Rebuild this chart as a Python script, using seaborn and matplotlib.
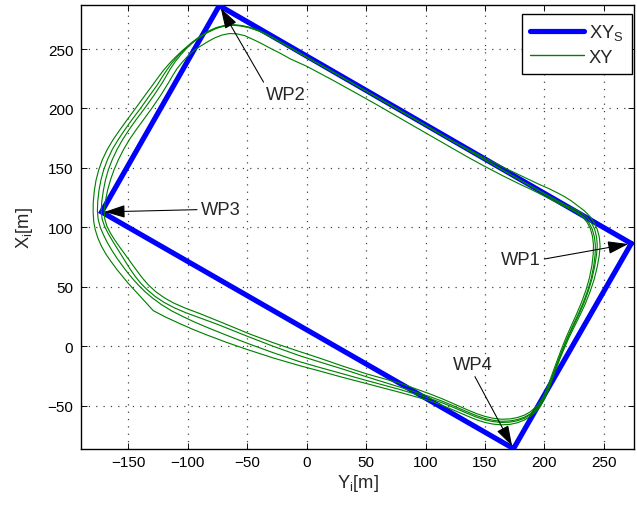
import numpy as np
import pandas as pd
import matplotlib
matplotlib.use("Agg")
import matplotlib.pyplot as plt
import seaborn as sns
from matplotlib.lines import Line2D

# Waypoints (horizontal axis = Y_i, vertical axis = X_i), in visiting order
wp_names = ["WP1", "WP2", "WP3", "WP4"]
wp_yi = [273.0, -73.5, -172.5, 174.0]
wp_xi = [86.5, 286.5, 113.0, -86.0]

# Vehicle track, one list of (Y_i, X_i) points per lap
lap1 = [(120, 174), (100, 185.6), (80, 197.2), (60, 208.7), (40, 220.3), (20, 231.8), (0, 243.2),
        (-14, 251.2), (-22, 255.6), (-30, 260.2), (-40, 265), (-48, 267.8), (-55, 269.3), (-62, 270),
        (-69, 269.3), (-76, 267.3), (-83, 264), (-90, 259.8), (-97, 254.8), (-104, 249.2),
        (-110, 243.5), (-115.5, 237.8), (-120.5, 232), (-125, 226), (-129.5, 219.8), (-136, 211),
        (-144, 200), (-151, 190.5), (-157.5, 181.5), (-163, 173.5), (-168, 165), (-172, 156.5),
        (-175, 148), (-177.2, 139.5), (-178.7, 130), (-179.5, 121), (-179.6, 113), (-179.1, 105),
        (-177.8, 98), (-175.6, 91), (-172.5, 84), (-168.5, 77), (-164, 70.6), (-159.5, 64.5),
        (-155, 59), (-150.5, 53.5), (-145, 47.5), (-139.5, 41.5), (-134, 35.5), (-129, 30),
        (-118, 24.3), (-106, 18.8), (-95, 14), (-84, 9.6), (-67, 3.2), (-50.5, -2.5), (-28, -9.8),
        (-5.6, -16.3), (11.2, -20.8), (30, -26), (50, -31.2), (78.5, -38.7), (103.7, -45.7),
        (115, -50), (125, -54.2), (135, -58.5), (143, -61.8), (150, -64), (157, -65.4), (164, -66),
        (171, -65.6), (177, -64.3), (183, -62), (188, -59), (192.5, -55.2), (196.3, -50.7),
        (199.4, -45.6), (202, -40), (204.5, -33.5), (207, -26.5), (209.8, -19), (212.8, -11),
        (216.2, -2.7), (220, 6), (224.5, 15.3), (229.3, 25), (234, 35), (238.2, 45.5), (241.7, 56),
        (244.3, 66.5), (246, 76), (246.8, 84), (246.2, 91.5), (244.5, 98), (241.8, 104), (238, 109.5),
        (233.5, 114), (228.5, 117.8), (223, 122), (217, 125.8), (211, 129), (204, 132.5), (196, 136),
        (187.5, 140), (177.7, 144.7), (168, 149.3), (158, 154.3), (147, 159.8), (134, 166.7), (120, 174)]

lap2 = [(120, 174), (100, 185.8), (80, 197.3), (60, 208.8), (40, 220.3), (20, 231.8), (0, 243),
        (-14, 251), (-22, 255.5), (-30, 260.3), (-40, 265.2), (-48, 268), (-55, 269.6), (-62, 270.2),
        (-69, 269.6), (-76, 267.8), (-83, 264.8), (-90, 260.5), (-97, 255.2), (-103, 249.5),
        (-108.5, 243.8), (-113.5, 238), (-117.5, 232.5), (-121.5, 226.5), (-125.5, 220), (-132, 211),
        (-140, 199.8), (-147, 190.5), (-153, 182), (-158.4, 174), (-163.5, 165.5), (-167.5, 157),
        (-170.7, 148.5), (-173, 140), (-174.7, 131), (-175.7, 122), (-176, 114), (-175.4, 107),
        (-173.6, 100), (-171, 94), (-167.8, 87.5), (-164, 81), (-159.8, 74.5), (-155.5, 68.5),
        (-151, 62.5), (-146.5, 57), (-141.5, 51.5), (-136, 46), (-129.5, 40.5), (-122, 35),
        (-113.5, 29.8), (-104, 25), (-94, 20.3), (-82, 15.2), (-66, 8.8), (-50, 2.6), (-28, -5.4),
        (-5.6, -13), (11.2, -17.8), (30, -23), (50, -28.6), (78.5, -36.3), (103.7, -43.8),
        (115, -47.9), (125, -52), (135, -56.3), (143, -59.6), (150, -61.8), (157, -63.3), (164, -64),
        (171, -63.7), (177, -62.6), (183, -60.5), (188, -57.6), (192.4, -53.8), (196.2, -49.3),
        (199.2, -44.2), (201.8, -38.7), (204.2, -32.4), (206.7, -25.6), (209.5, -18.2),
        (212.5, -10.3), (215.8, -2), (219.5, 6.7), (223.8, 16), (228.5, 25.8), (233, 36),
        (236.9, 46.5), (240, 57), (242.3, 67.5), (243.8, 77), (244.4, 85), (243.8, 92), (242.2, 98.5),
        (239.5, 103.8), (235.8, 108.5), (231, 112.3), (225.5, 115.5), (219, 118.3), (211, 122.5),
        (200, 128.5), (190, 134), (180, 139.6), (168, 146.5), (155, 154), (140, 162.6), (120, 174)]

lap3 = [(120, 174.2), (100, 186), (80, 197.5), (60, 209), (40, 220.5), (20, 232), (0, 243.3),
        (-14, 251.4), (-22, 255.8), (-30, 260.6), (-40, 265.5), (-48, 268.3), (-55, 269.8),
        (-62, 270.4), (-69, 269.8), (-76, 268), (-82, 265.2), (-88, 261.5), (-94.5, 256.5),
        (-101, 250.5), (-106, 245), (-110.5, 239.5), (-114.5, 233.5), (-118, 227.5), (-121.5, 221.5),
        (-128.5, 211), (-136.5, 199.8), (-143.5, 190.5), (-149.5, 182), (-154.7, 174),
        (-159.5, 165.5), (-163.5, 157), (-166.8, 148.5), (-169.2, 140), (-171, 131), (-172.3, 122),
        (-172.8, 114), (-172, 107), (-170, 101), (-167, 95), (-163.5, 89), (-159.8, 83), (-156, 77),
        (-152.3, 71), (-148.5, 65), (-144.3, 59), (-139.5, 53), (-134, 47.5), (-127.5, 42),
        (-120, 37), (-111.5, 32.5), (-101.5, 28.2), (-90, 24), (-75, 18.5), (-60, 12.5), (-50, 8.5),
        (-28, 0), (-5.6, -8), (11.2, -13.2), (30, -19), (50, -25.5), (78.5, -34.3), (103.7, -42.3),
        (115, -46.5), (125, -50.7), (135, -55), (143, -58.3), (150, -60.6), (157, -62.2), (164, -63),
        (171, -62.7), (177, -61.6), (183, -59.6), (188, -56.8), (192.3, -53.2), (196, -48.8),
        (199, -43.9), (201.6, -38.5), (204, -32.3), (206.5, -25.6), (209.2, -18.2), (212.2, -10.3),
        (215.4, -2), (219, 6.7), (223.2, 16), (227.8, 25.8), (232.3, 36), (236.2, 46.5), (239.3, 57),
        (241.4, 67.5), (242.6, 77), (242.8, 85), (242, 92), (240.2, 98.5), (237.3, 104),
        (233.4, 108.6), (228.5, 112.2), (223, 115.2), (216.5, 118.5), (208, 123.3), (200, 128),
        (190, 133.7), (180, 139.4), (168, 146.3), (155, 153.8), (140, 162.4), (120, 174.2)]

lap4 = [(120, 168), (100, 179.5), (80, 191), (60, 202.6), (40, 213.8), (21, 224.3), (0, 235.5),
        (-14, 241.8), (-22, 246.3), (-30, 250.3), (-38, 254.6), (-45, 258), (-52, 261.2),
        (-59, 262.8), (-65, 263), (-71, 261.8), (-77, 259.5), (-83, 256.3), (-89, 252.6),
        (-95.4, 248.4), (-100.5, 243.5), (-105, 238.5), (-109, 233.5), (-112.5, 228), (-116, 222),
        (-122.5, 211.5), (-130, 200.5), (-137.3, 190.5), (-143.5, 182), (-149, 174), (-154, 165.5),
        (-158.3, 157), (-162, 148.5), (-165, 140), (-167.5, 131), (-169.3, 122), (-170.3, 114),
        (-169.8, 107), (-168, 101), (-165.2, 95.5), (-161.8, 90), (-158, 84.5), (-154, 79),
        (-150, 73.5), (-146, 68), (-142, 62.5), (-137.8, 57), (-133, 51.5), (-127, 46), (-120, 41),
        (-112, 36.5), (-103, 32.5), (-89.7, 27.5), (-70, 19.5), (-47.7, 10.3), (-28, 3),
        (-5.6, -4.5), (11.2, -10), (30, -16.5), (50, -23), (78.5, -31), (103.7, -40), (115, -44.5),
        (125, -48.9), (135, -53.3), (143, -56.6), (150, -58.9), (157, -60.5), (164, -61.3),
        (171, -61), (177, -59.9), (183, -57.9), (188, -55.1), (192.2, -51.5), (195.8, -47.2),
        (198.8, -42.3), (201.3, -37), (203.7, -31), (206.1, -24.4), (208.7, -17.2), (211.6, -9.4),
        (214.7, -1.2), (218.2, 7.5), (222.3, 16.8), (226.7, 26.5), (231, 36.6), (234.8, 47),
        (237.8, 57.5), (239.9, 68), (241, 77.5), (241.2, 85.5), (240.4, 92.5), (238.6, 99),
        (235.7, 104.5), (231.8, 109), (227, 112.4), (221, 115.6), (214.5, 118.8), (207, 122.6),
        (198, 127.3), (189, 131.8), (179.4, 136.3), (165, 143.4), (150, 151.2), (135, 159.4),
        (120, 168)]

laps = [lap1, lap2, lap3, lap4]

# Label anchor points for the waypoint call-outs (Y_i, X_i)
label_yi = [180.2, -17.8, -72.5, 139.9]
label_xi = [72.9, 212.0, 115.0, -15.3]
label_relpos = [(1.0, 0.5), (0.0, 1.0), (0.0, 0.5), (0.5, 0.0)]

sns.set_theme(style="white")
plt.rcParams["font.family"] = ["Liberation Sans", "DejaVu Sans"]
plt.rcParams["mathtext.fontset"] = "custom"
plt.rcParams["mathtext.rm"] = "Liberation Sans"
plt.rcParams["mathtext.it"] = "Liberation Sans"

DPI = 110
fig = plt.figure(figsize=(637 / DPI, 506 / DPI), dpi=DPI)
fig.patch.set_facecolor("white")
ax = fig.add_axes([81 / 637, 56 / 506, 553 / 637, 444 / 506])
ax.set_facecolor("white")

blue = "#0000FF"
green = "#008000"

# Reference path through the waypoints (closed)
ref = pd.DataFrame({"Yi": wp_yi + wp_yi[:1], "Xi": wp_xi + wp_xi[:1]})
sns.lineplot(data=ref, x="Yi", y="Xi", sort=False, estimator=None, color=blue,
             lw=3.4, ax=ax, solid_joinstyle="miter", zorder=3)

# Simulated track
for lap in laps:
    yi, xi = zip(*lap)
    df = pd.DataFrame({"Yi": yi, "Xi": xi})
    sns.lineplot(data=df, x="Yi", y="Xi", sort=False, estimator=None, color=green,
                 lw=0.75, ax=ax, zorder=4)

ax.set_xlim(-189.8, 275.3)
ax.set_ylim(-86.3, 287.0)
ax.set_xticks(np.arange(-150, 251, 50))
ax.set_yticks(np.arange(-50, 251, 50))

ax.grid(True, color="0.25", linestyle=(0, (1, 5)), linewidth=0.8)
ax.set_axisbelow(True)
for s in ax.spines.values():
    s.set_color("black")
    s.set_linewidth(0.9)
    s.set_visible(True)

ax.tick_params(direction="in", length=4, width=0.6, colors="black", labelsize=10,
               top=True, right=True, bottom=True, left=True)
ax.tick_params(axis="x", pad=4)
ax.tick_params(axis="y", pad=5)

ax.set_xlabel(r"Y$_\mathregular{i}$[m]", fontsize=12, labelpad=2)
ax.set_ylabel(r"X$_\mathregular{i}$[m]", fontsize=12, labelpad=8)

# Waypoint call-outs
for name, wy, wx, ty, tx, rp in zip(wp_names, wp_yi, wp_xi, label_yi, label_xi, label_relpos):
    ax.annotate(name, xy=(wy, wx), xytext=(ty, tx), fontsize=12, ha="center", va="center",
                zorder=6,
                arrowprops=dict(arrowstyle="-|>,head_length=1.15,head_width=0.36",
                                color="black", lw=0.7, relpos=rp, shrinkA=0, shrinkB=2,
                                mutation_scale=10))

handles = [Line2D([], [], color=blue, lw=3.4), Line2D([], [], color=green, lw=0.9)]
leg = ax.legend(handles, [r"XY$_\mathregular{S}$", "XY"], loc="upper right",
                bbox_to_anchor=(0.9964, 0.9797), borderaxespad=0, fontsize=12,
                handlelength=2.9, handletextpad=0.3, borderpad=0.45, labelspacing=0.35,
                fancybox=False, framealpha=1, edgecolor="black")
leg.get_frame().set_linewidth(0.9)
leg.set_zorder(7)

fig.savefig("out.png", dpi=DPI, facecolor="white")
